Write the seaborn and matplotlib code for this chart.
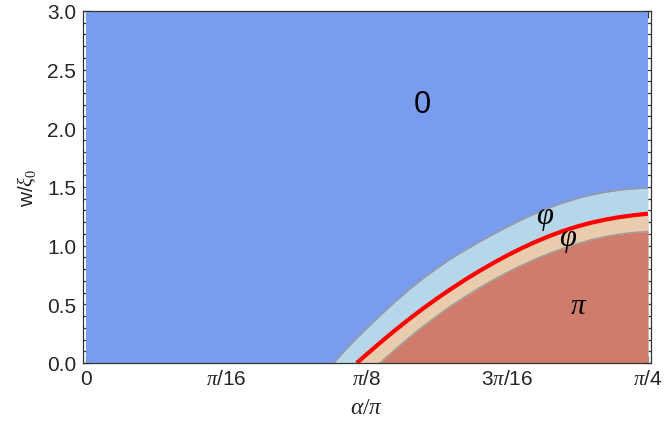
import numpy as np
import matplotlib
matplotlib.use("Agg")
import matplotlib.pyplot as plt
import seaborn as sns
import pandas as pd

# ---- data (alpha given in units of pi/4) ----
upper_t = [0.441, 0.46, 0.475, 0.50, 0.525, 0.55, 0.575, 0.60, 0.625, 0.65, 0.675, 0.70,
           0.725, 0.75, 0.775, 0.80, 0.825, 0.85, 0.875, 0.90, 0.925, 0.95, 0.975, 1.0]
upper_w = [0.0, 0.10, 0.177, 0.295, 0.41, 0.52, 0.623, 0.72, 0.807, 0.888, 0.962, 1.03,
           1.097, 1.16, 1.219, 1.273, 1.322, 1.365, 1.402, 1.432, 1.456, 1.473, 1.484, 1.49]

red_t = [0.482, 0.50, 0.525, 0.55, 0.575, 0.60, 0.625, 0.65, 0.675, 0.70, 0.725,
         0.75, 0.775, 0.80, 0.825, 0.85, 0.875, 0.90, 0.925, 0.95, 0.975, 1.0]
red_w = [0.0, 0.075, 0.178, 0.278, 0.373, 0.464, 0.55, 0.632, 0.71, 0.783, 0.852,
         0.917, 0.977, 1.032, 1.082, 1.126, 1.164, 1.196, 1.222, 1.243, 1.259, 1.272]

lower_t = [0.523, 0.55, 0.575, 0.60, 0.625, 0.65, 0.675, 0.70, 0.725, 0.75,
           0.775, 0.80, 0.825, 0.85, 0.875, 0.90, 0.925, 0.95, 0.975, 1.0]
lower_w = [0.0, 0.115, 0.217, 0.313, 0.403, 0.487, 0.566, 0.64, 0.709, 0.773,
           0.832, 0.886, 0.935, 0.979, 1.018, 1.051, 1.078, 1.098, 1.112, 1.12]

xtick_t = [0, 0.25, 0.5, 0.75, 1.0]
xtick_labels = ["0", r"$\pi$/16", r"$\pi$/8", r"3$\pi$/16", r"$\pi$/4"]
ytick_vals = [0.0, 0.5, 1.0, 1.5, 2.0, 2.5, 3.0]

region_labels = ["0", r"$\varphi$", r"$\varphi$", r"$\pi$"]
region_t = [0.598, 0.817, 0.857, 0.877]
region_w = [2.21, 1.24, 1.06, 0.49]

# ---- style ----
sns.set_style("ticks")
plt.rcParams["font.family"] = ["Liberation Sans", "DejaVu Sans"]
plt.rcParams["mathtext.fontset"] = "custom"
plt.rcParams["mathtext.rm"] = "Liberation Serif"
plt.rcParams["mathtext.it"] = "Liberation Serif:italic"

C_ZERO = "#7a9cee"
C_PHI_U = "#b6d6ea"
C_PHI_L = "#e8ccad"
C_PI = "#cf7c6d"

fig = plt.figure(figsize=(6.64, 4.31), dpi=100)
ax = fig.add_axes([0.125, 0.1555, 0.855, 0.817])

Q = np.pi / 4
to_x = lambda t: np.array(t, dtype=float) * Q

ax.fill_between([0, Q], 0, 3, color=C_ZERO, lw=0, zorder=1)
ax.fill_between(to_x(upper_t), upper_w, 0, color=C_PHI_U, lw=0, zorder=2)
ax.fill_between(to_x(red_t), red_w, 0, color=C_PHI_L, lw=0, zorder=3)
ax.fill_between(to_x(lower_t), lower_w, 0, color=C_PI, lw=0, zorder=4)

df_u = pd.DataFrame({"x": to_x(upper_t), "w": upper_w})
df_r = pd.DataFrame({"x": to_x(red_t), "w": red_w})
df_l = pd.DataFrame({"x": to_x(lower_t), "w": lower_w})
sns.lineplot(data=df_u, x="x", y="w", ax=ax, color="#9a9a9a", lw=1.0, sort=False, zorder=5)
sns.lineplot(data=df_l, x="x", y="w", ax=ax, color="#9a9a9a", lw=1.0, sort=False, zorder=5)
sns.lineplot(data=df_r, x="x", y="w", ax=ax, color="#ff0000", lw=3.0, sort=False, zorder=6,
             solid_capstyle="butt")

sizes = [22, 22, 22, 21]
for lab, t, w, s in zip(region_labels, region_t, region_w, sizes):
    ax.text(t * Q, w, lab, fontsize=s, ha="center", va="center", color="black", zorder=7)

pad = 0.005 * Q
ax.set_xlim(-pad, Q + pad)
ax.set_ylim(0, 3)

ax.set_xticks(to_x(xtick_t))
ax.set_xticklabels(xtick_labels)
ax.set_xticks(np.arange(0, 17) * np.pi / 64, minor=True)
ax.set_yticks(ytick_vals)
ax.set_yticklabels([f"{v:.1f}" for v in ytick_vals])
ax.set_yticks(np.arange(0, 31) * 0.1, minor=True)

ax.tick_params(which="both", direction="in", top=True, right=True, color="#333333",
               labelsize=15, width=0.9)
ax.tick_params(which="major", length=5)
ax.tick_params(which="minor", length=2.8)
ax.tick_params(axis="x", which="major", pad=4)
ax.tick_params(axis="y", which="major", pad=5)
for sp in ax.spines.values():
    sp.set_color("#333333")
    sp.set_linewidth(0.9)
    sp.set_zorder(10)

ax.set_xlabel(r"$\alpha/\pi$", fontsize=17, labelpad=6)
ax.set_ylabel(r"w/$\xi_0$", fontsize=15, labelpad=6)

fig.savefig("out.png", dpi=100)
